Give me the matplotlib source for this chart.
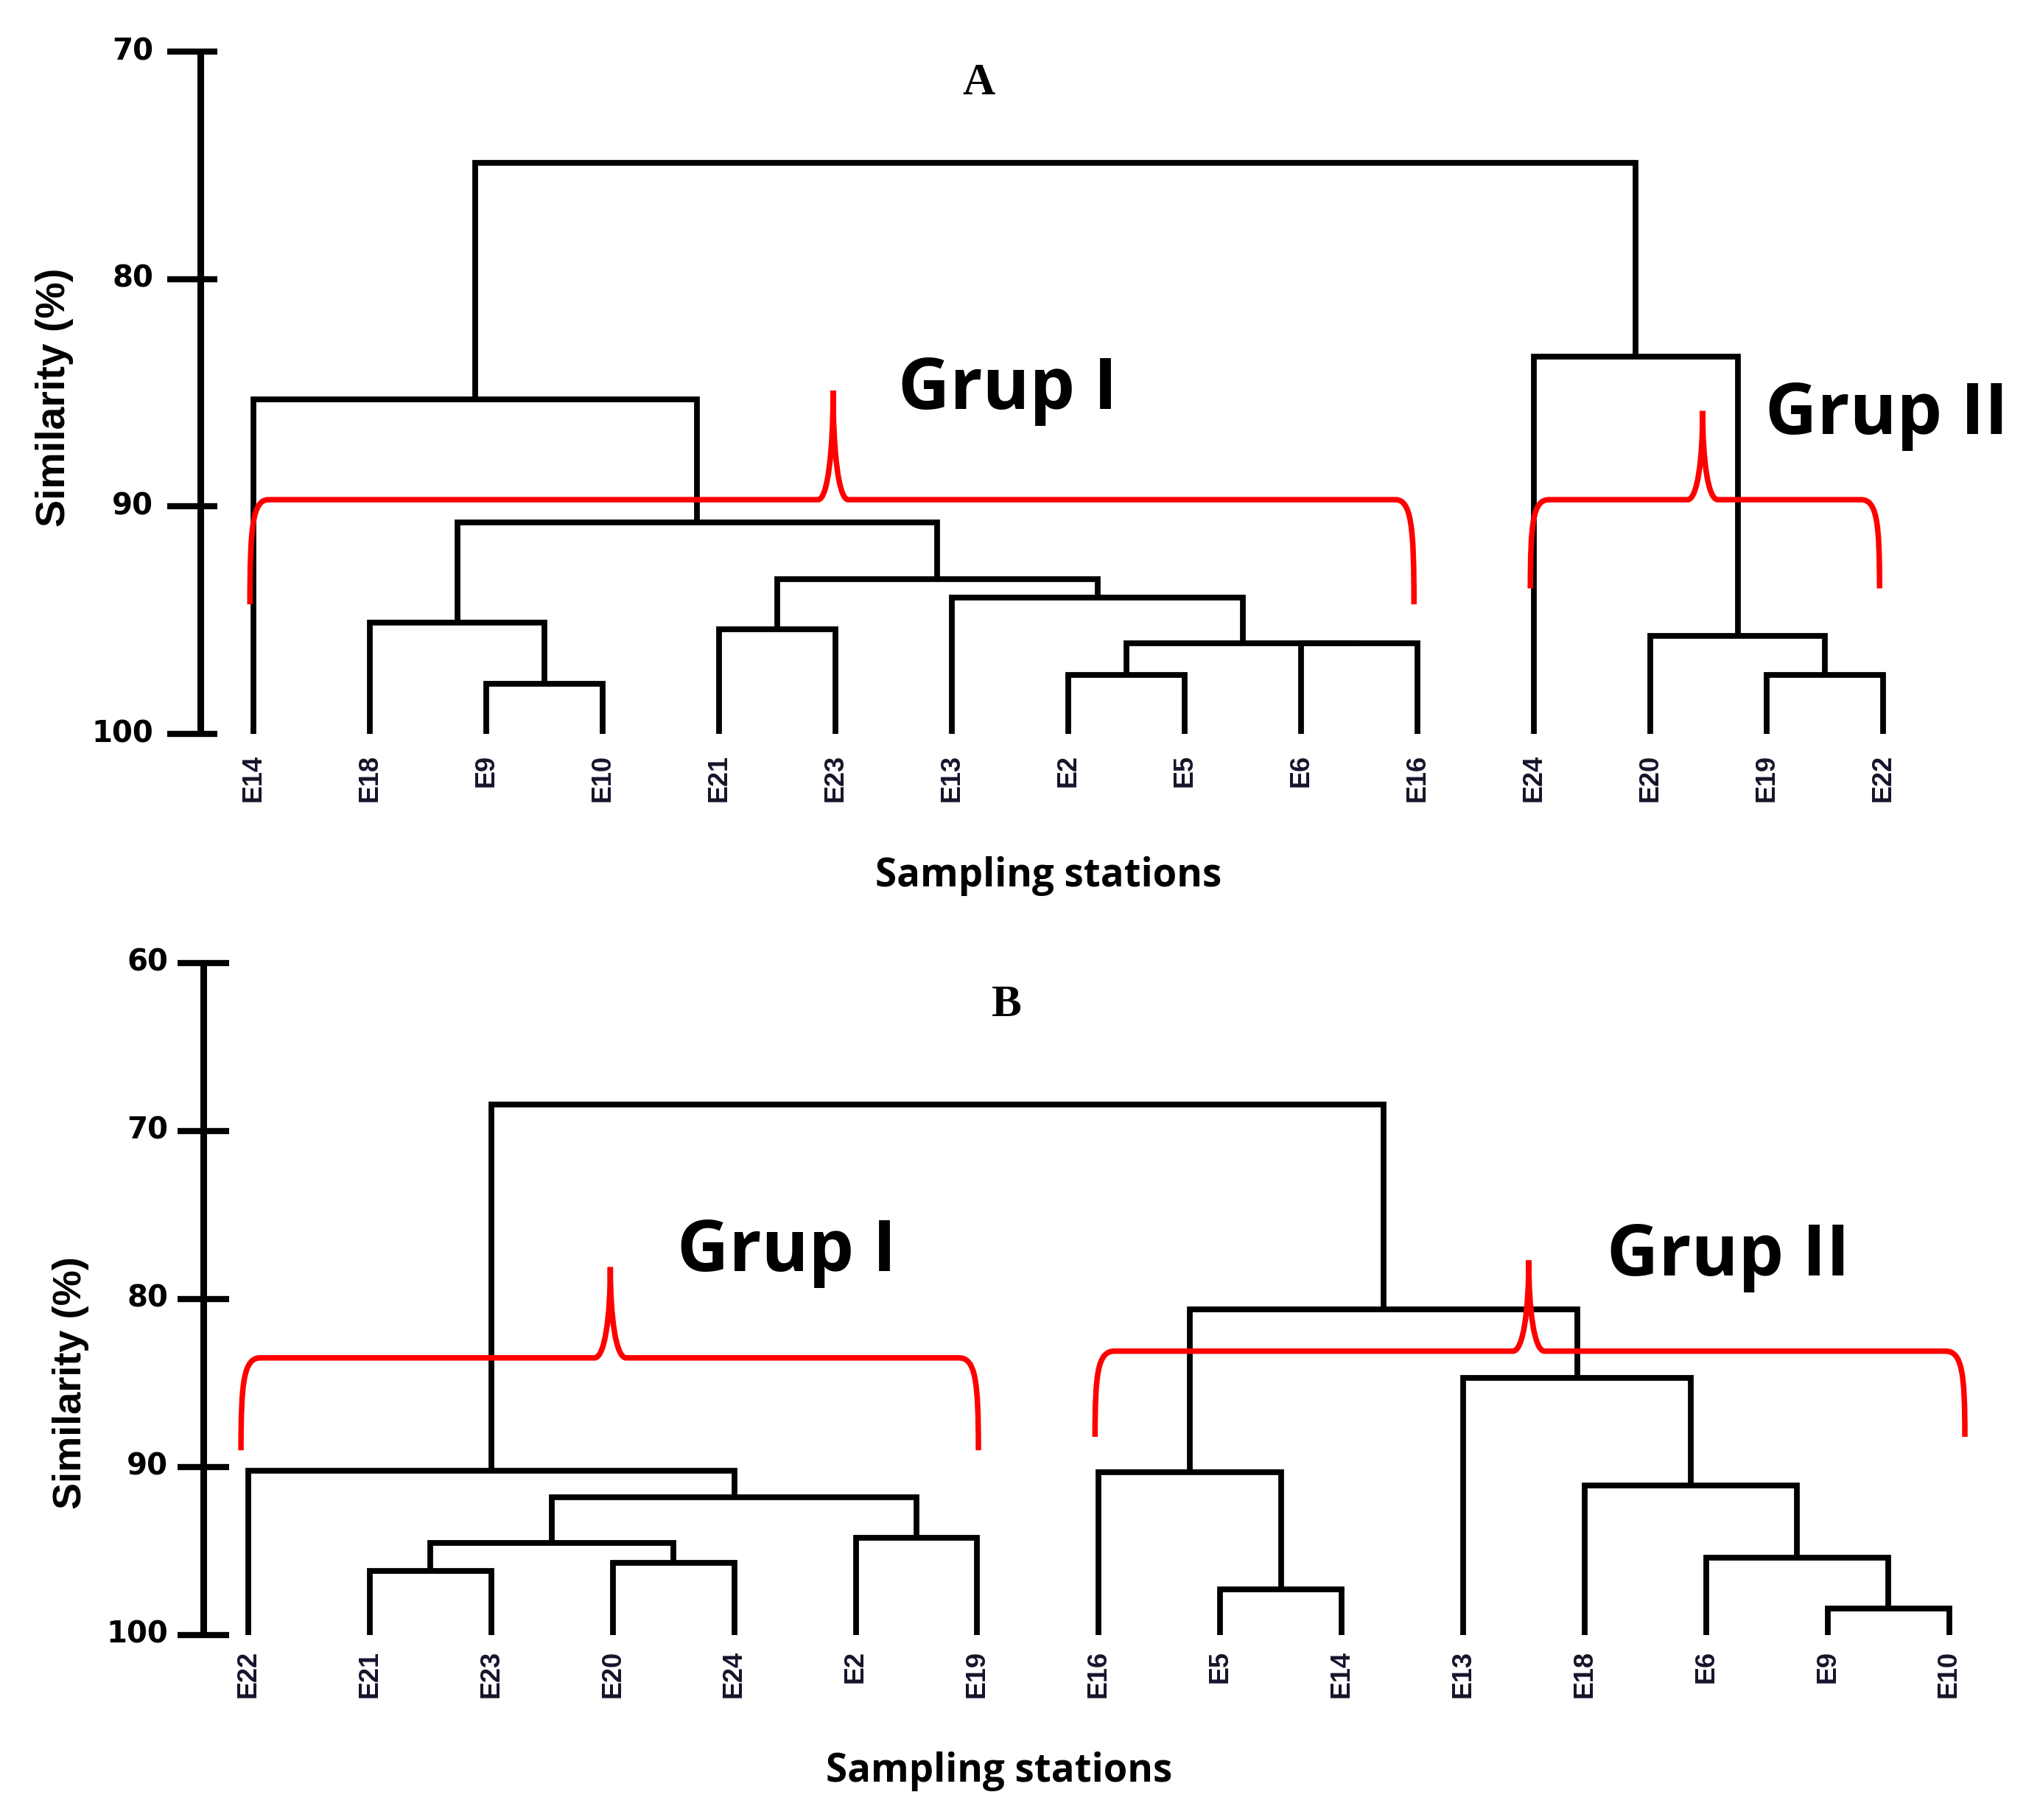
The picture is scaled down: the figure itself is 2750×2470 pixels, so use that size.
import matplotlib

matplotlib.use("Agg")
import matplotlib.pyplot as plt
from matplotlib.path import Path
from matplotlib.patches import PathPatch

# panel A: leaf order and merges (child = leaf name or index of earlier merge)
leaves_a = ["E14", "E18", "E9", "E10", "E21", "E23", "E13", "E2", "E5", "E6", "E16",
            "E24", "E20", "E19", "E22"]
merges_a = [
    ("E9", "E10", 97.8),   # 0
    ("E18", 0, 95.1),      # 1
    ("E21", "E23", 95.4),  # 2
    ("E2", "E5", 97.4),    # 3
    ("E6", "E16", 96.0),   # 4
    (3, 4, 96.0),          # 5
    ("E13", 5, 94.0),      # 6
    (2, 6, 93.2),          # 7
    (1, 7, 90.7),          # 8
    ("E14", 8, 85.3),      # 9
    ("E19", "E22", 97.4),  # 10
    ("E20", 10, 95.7),     # 11
    ("E24", 11, 83.4),     # 12
    (9, 12, 74.9),         # 13
]
ticks_a = [70, 80, 90, 100]

# panel B
leaves_b = ["E22", "E21", "E23", "E20", "E24", "E2", "E19", "E16", "E5", "E14", "E13",
            "E18", "E6", "E9", "E10"]
merges_b = [
    ("E21", "E23", 96.2),  # 0
    ("E20", "E24", 95.7),  # 1
    (0, 1, 94.5),          # 2
    ("E2", "E19", 94.2),   # 3
    (2, 3, 91.8),          # 4
    ("E22", 4, 90.2),      # 5
    ("E5", "E14", 97.3),   # 6
    ("E16", 6, 90.3),      # 7
    ("E9", "E10", 98.4),   # 8
    ("E6", 8, 95.4),       # 9
    ("E18", 9, 91.1),      # 10
    ("E13", 10, 84.7),     # 11
    (7, 11, 80.6),         # 12
    (5, 12, 68.4),         # 13
]
ticks_b = [60, 70, 80, 90, 100]

# braces: (left leaf, right leaf, peak position, level, end, peak height)
braces_a = [(-0.03, 9.97, 4.98, 89.7, 94.3, 84.9), (10.97, 13.97, 12.45, 89.7, 93.6, 85.8)]
braces_b = [(-0.06, 6.01, 2.98, 83.5, 89.0, 78.1), (6.97, 14.13, 10.54, 83.1, 88.2, 77.7)]

LW = 5.6


def draw_tree(ax, leaves, merges):
    pos = {name: (i, 100.0) for i, name in enumerate(leaves)}

    def get(c):
        return pos[c] if isinstance(c, str) else pos[("m", c)]

    for k, (a, b, h) in enumerate(merges):
        xa, ha = get(a)
        xb, hb = get(b)
        ax.plot([xa, xa, xb, xb], [ha, h, h, hb], color="black", lw=LW,
                solid_joinstyle="miter", solid_capstyle="butt")
        pos[("m", k)] = ((xa + xb) / 2, h)

    for i, name in enumerate(leaves):
        ax.text(i, 100.9, name, rotation=90, ha="center", va="top", fontsize=26,
                fontweight="bold", family="Liberation Sans", color="#14142a")


def draw_brace(ax, x0, x1, xp, level, end, peak, r=0.16, w=0.13):
    verts = [
        (x0, end),
        (x0, level + (end - level) * 0.25), (x0 + r * 0.15, level), (x0 + r, level),
        (xp - w, level),
        (xp - w * 0.35, level), (xp, level - (level - peak) * 0.45), (xp, peak),
        (xp, level - (level - peak) * 0.45), (xp + w * 0.35, level), (xp + w, level),
        (x1 - r, level),
        (x1 - r * 0.15, level), (x1, level + (end - level) * 0.25), (x1, end),
    ]
    codes = [Path.MOVETO, Path.CURVE4, Path.CURVE4, Path.CURVE4, Path.LINETO,
             Path.CURVE4, Path.CURVE4, Path.CURVE4, Path.CURVE4, Path.CURVE4, Path.CURVE4,
             Path.LINETO, Path.CURVE4, Path.CURVE4, Path.CURVE4]
    ax.add_patch(PathPatch(Path(verts, codes), fill=False, edgecolor="#ff0000", lw=5.4,
                           zorder=5))


def draw_axis(ax, ticks, x_axis, t0, t1, x_lab):
    ax.plot([x_axis, x_axis], [ticks[0], ticks[-1]], color="black", lw=6.5,
            solid_capstyle="butt")
    for t in ticks:
        ax.plot([t0, t1], [t, t], color="black", lw=6.0, solid_capstyle="butt")
        ax.text(x_lab, t, str(t), ha="right", va="center", fontsize=29,
                fontweight="heavy", family="DejaVu Sans")


fig = plt.figure(figsize=(27.5, 24.7), dpi=100)

ax_a = fig.add_axes([0, 1 - 1240 / 2470, 1, 1240 / 2470])
ax_a.set_xlim(-344 / 158, (2750 - 344) / 158)
ax_a.set_ylim(70 + (1240 - 70) / 30.87, 70 - 70 / 30.87)
ax_a.axis("off")

draw_axis(ax_a, ticks_a, -0.455, -0.74, -0.31, -0.86)
draw_tree(ax_a, leaves_a, merges_a)
for br in braces_a:
    draw_brace(ax_a, *br)
ax_a.text(6.23, 71.4, "A", ha="center", va="center", fontsize=44, fontweight="bold",
          family="Liberation Serif")
ax_a.text(-1.71, 85.2, "Similarity (%)", rotation=90, ha="center", va="center",
          fontsize=40, fontweight="bold", family="Liberation Sans")
ax_a.text(6.83, 106.25, "Sampling stations", ha="center", va="center", fontsize=38,
          fontweight="bold", family="Open Sans")
ax_a.text(6.48, 84.9, "Grup I", ha="center", va="center", fontsize=70,
          fontweight="bold", family="Open Sans")
ax_a.text(14.03, 86.0, "Grup II", ha="center", va="center", fontsize=70,
          fontweight="bold", family="Open Sans")

ax_b = fig.add_axes([0, 0, 1, 1230 / 2470])
ax_b.set_xlim(-337 / 164.9, (2750 - 337) / 164.9)
ax_b.set_ylim(100 + (2470 - 2219) / 22.8, 60 - (1307 - 1240) / 22.8)
ax_b.axis("off")

draw_axis(ax_b, ticks_b, -0.37, -0.58, -0.16, -0.66)
draw_tree(ax_b, leaves_b, merges_b)
for br in braces_b:
    draw_brace(ax_b, *br)
ax_b.text(6.24, 62.5, "B", ha="center", va="center", fontsize=44, fontweight="bold",
          family="Liberation Serif")
ax_b.text(-1.46, 85.0, "Similarity (%)", rotation=90, ha="center", va="center",
          fontsize=39, fontweight="bold", family="Liberation Sans")
ax_b.text(6.18, 108.1, "Sampling stations", ha="center", va="center", fontsize=38,
          fontweight="bold", family="Open Sans")
ax_b.text(4.43, 77.2, "Grup I", ha="center", va="center", fontsize=70,
          fontweight="bold", family="Open Sans")
ax_b.text(12.18, 77.5, "Grup II", ha="center", va="center", fontsize=70,
          fontweight="bold", family="Open Sans")

fig.savefig("out.png", dpi=100)
